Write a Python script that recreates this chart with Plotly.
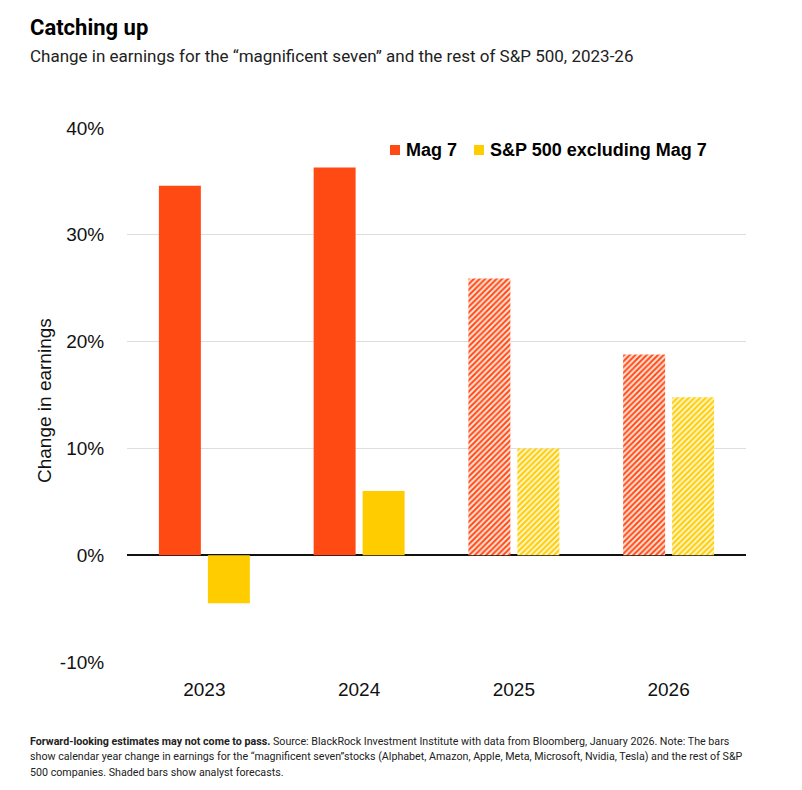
import plotly.graph_objects as go

years = ["2023", "2024", "2025", "2026"]
mag7 = [34.6, 36.3, 25.9, 18.8]
sp_ex = [-4.5, 6.0, 10.0, 14.8]
forecast = [False, False, True, True]
y_ticks = [-10, 0, 10, 20, 30, 40]
y_tick_labels = ["-10%", "0%", "10%", "20%", "30%", "40%"]
series_names = ["Mag 7", "S&P 500 excluding Mag 7"]

ORANGE = "#FF4A14"
YELLOW = "#FFCC00"

shapes = ["/" if f else "" for f in forecast]

fig = go.Figure()
fig.add_trace(go.Bar(
    x=years, y=mag7, name=series_names[0],
    marker=dict(color=ORANGE, line=dict(width=0),
                pattern=dict(shape=shapes, fgcolor=ORANGE, bgcolor="#ffe3d9",
                             size=4, solidity=0.5, fillmode="replace")),
))
fig.add_trace(go.Bar(
    x=years, y=sp_ex, name=series_names[1],
    marker=dict(color=YELLOW, line=dict(width=0),
                pattern=dict(shape=shapes, fgcolor=YELLOW, bgcolor="#fff6cc",
                             size=4, solidity=0.5, fillmode="replace")),
))

# plot area in figure px: x 119..738, y 120..654 (page has 8px body offset)
fig.update_layout(
    width=802, height=790,
    paper_bgcolor="white", plot_bgcolor="white",
    margin=dict(l=119, r=64, t=120, b=136),
    barmode="group", bargap=0.367, bargroupgap=0.143,
    font=dict(family="Arial, Liberation Sans", size=19, color="#111"),
    showlegend=False,
    xaxis=dict(showgrid=False, ticks="outside", ticklen=10, tickcolor="white",
               showline=False, tickfont=dict(size=19)),
    yaxis=dict(range=[-10, 40], tickvals=y_ticks, ticktext=y_tick_labels,
               gridcolor="#dedede", gridwidth=1, zeroline=True, zerolinecolor="#111",
               zerolinewidth=2, ticks="outside", ticklen=18, tickcolor="white",
               tickfont=dict(size=19), showline=False),
)

def px_x(X):
    return (X - 127) / 619

def px_y(Y):
    return (662 - Y) / 534

# Legend (custom)
leg = [(390, series_names[0], ORANGE), (474, series_names[1], YELLOW)]
for x0, name, col in leg:
    fig.add_shape(type="rect", xref="paper", yref="paper",
                  x0=px_x(x0), x1=px_x(x0 + 10), y0=px_y(155), y1=px_y(145),
                  fillcolor=col, line=dict(width=0))
    fig.add_annotation(text="<b>" + name + "</b>", xref="paper", yref="paper",
                       x=px_x(x0 + 14), y=px_y(150), xanchor="left", yanchor="middle",
                       showarrow=False,
                       font=dict(family="Arial, Liberation Sans", size=18, color="black"))

fig.add_annotation(text="Change in earnings", textangle=-90, xref="paper", yref="paper",
                   x=px_x(44), y=px_y(401), showarrow=False, font=dict(size=19),
                   xanchor="center", yanchor="middle")

fig.add_annotation(text="<b>Catching up</b>", xref="paper", yref="paper",
                   x=px_x(28), y=px_y(27), xanchor="left", yanchor="middle",
                   showarrow=False, font=dict(family="Roboto", size=22, color="black"))
fig.add_annotation(text="Change in earnings for the \u201cmagnificent seven\u201d and the rest of S&P 500, 2023-26",
                   xref="paper", yref="paper",
                   x=px_x(28), y=px_y(56), xanchor="left", yanchor="middle",
                   showarrow=False, font=dict(family="Roboto", size=17, color="#222"))

foot_lines = [
    "<b>Forward-looking estimates may not come to pass.</b> Source: BlackRock Investment Institute with data from Bloomberg, January 2026. Note: The bars",
    "show calendar year change in earnings for the \u201cmagnificent seven\u201dstocks (Alphabet, Amazon, Apple, Meta, Microsoft, Nvidia, Tesla) and the rest of S&P",
    "500 companies. Shaded bars show analyst forecasts.",
]
for i, (line, yy) in enumerate(zip(foot_lines, [741, 756.5, 772])):
    fig.add_annotation(text=line, xref="paper", yref="paper",
                       x=px_x(28), y=px_y(yy), xanchor="left", yanchor="middle",
                       align="left", showarrow=False,
                       font=dict(family="Roboto", size=10.7, color="#222"))

fig.write_html("out.html")
